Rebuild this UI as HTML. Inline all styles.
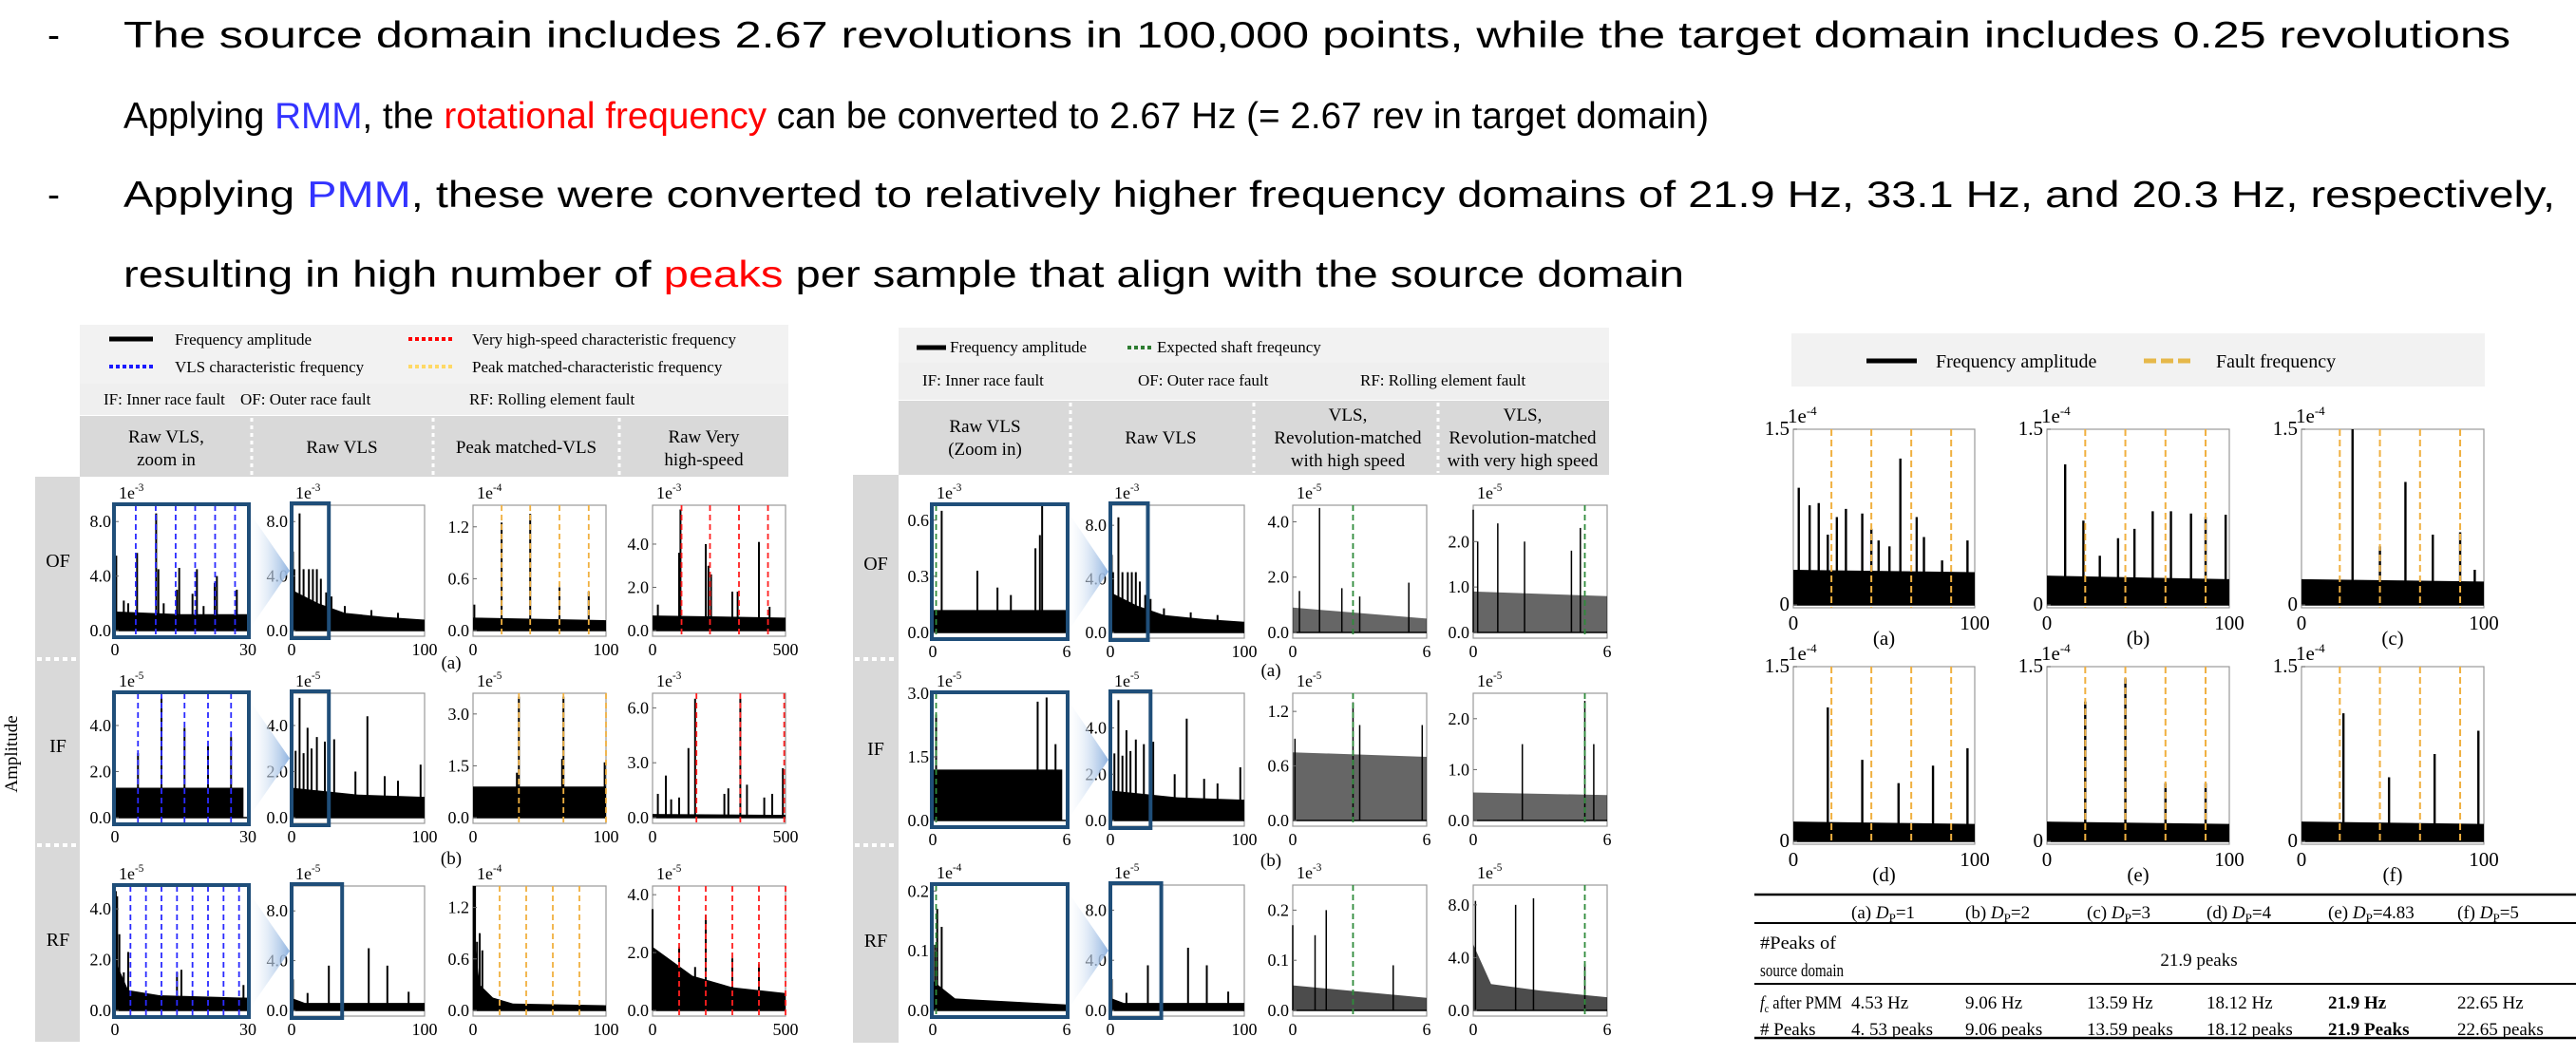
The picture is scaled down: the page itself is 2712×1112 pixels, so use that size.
<!DOCTYPE html>
<html><head><meta charset="utf-8">
<style>
html,body{margin:0;padding:0;background:#fff;}
svg{display:block;}
</style></head>
<body>
<svg id="root" xmlns="http://www.w3.org/2000/svg" width="2712" height="1112" viewBox="0 0 2712 1112">
<g font-family="'Liberation Sans', sans-serif" font-size="39" fill="#000">
  <text x="50" y="50">-</text>
  <text x="130" y="50" textLength="2513" lengthAdjust="spacingAndGlyphs">The source domain includes 2.67 revolutions in 100,000 points, while the target domain includes 0.25 revolutions</text>
  <text x="130" y="135" textLength="1669" lengthAdjust="spacingAndGlyphs">Applying <tspan fill="#3333ff">RMM</tspan>, the <tspan fill="#ff0000">rotational frequency</tspan> can be converted to 2.67 Hz (= 2.67 rev in target domain)</text>
  <text x="50" y="218">-</text>
  <text x="130" y="218" textLength="2560" lengthAdjust="spacingAndGlyphs">Applying <tspan fill="#3333ff">PMM</tspan>, these were converted to relatively higher frequency domains of 21.9 Hz, 33.1 Hz, and 20.3 Hz, respectively,</text>
  <text x="130" y="302" textLength="1643" lengthAdjust="spacingAndGlyphs">resulting in high number of <tspan fill="#ff0000">peaks</tspan> per sample that align with the source domain</text>
</g>

<g font-family="'Liberation Serif', serif" font-size="17">
  <rect x="84" y="342" width="746" height="95" fill="#f2f2f2"/>
  <rect x="84" y="404" width="746" height="33" fill="#efefef"/>
  <line x1="115" y1="357" x2="161" y2="357" stroke="#000" stroke-width="5"/>
  <text x="184" y="363">Frequency amplitude</text>
  <line x1="430" y1="357" x2="479" y2="357" stroke="#ff0000" stroke-width="4" stroke-dasharray="4,3"/>
  <text x="497" y="363">Very high-speed characteristic frequency</text>
  <line x1="115" y1="386" x2="161" y2="386" stroke="#1a1aff" stroke-width="4" stroke-dasharray="4,3"/>
  <text x="184" y="392">VLS characteristic frequency</text>
  <line x1="430" y1="386" x2="479" y2="386" stroke="#ffd966" stroke-width="4" stroke-dasharray="4,3"/>
  <text x="497" y="392">Peak matched-characteristic frequency</text>
  <text x="109" y="426">IF: Inner race fault</text>
  <text x="253" y="426">OF: Outer race fault</text>
  <text x="494" y="426">RF: Rolling element fault</text>
</g>
<g font-family="'Liberation Serif', serif" font-size="19" text-anchor="middle">
  <rect x="84" y="438" width="746" height="64" fill="#d9d9d9"/>
  <line x1="265" y1="440" x2="265" y2="500" stroke="#fff" stroke-width="3" stroke-dasharray="4,4"/>
  <line x1="456" y1="440" x2="456" y2="500" stroke="#fff" stroke-width="3" stroke-dasharray="4,4"/>
  <line x1="652" y1="440" x2="652" y2="500" stroke="#fff" stroke-width="3" stroke-dasharray="4,4"/>
  <text x="175" y="466">Raw VLS,</text><text x="175" y="490">zoom in</text>
  <text x="360" y="477">Raw VLS</text>
  <text x="554" y="477">Peak matched-VLS</text>
  <text x="741" y="466">Raw Very</text><text x="741" y="490">high-speed</text>
</g>
<g font-family="'Liberation Serif', serif" font-size="20" text-anchor="middle">
  <rect x="37" y="502" width="47" height="595" fill="#d9d9d9"/>
  <line x1="39" y1="694" x2="82" y2="694" stroke="#fff" stroke-width="4" stroke-dasharray="5,4"/>
  <line x1="39" y1="890" x2="82" y2="890" stroke="#fff" stroke-width="4" stroke-dasharray="5,4"/>
  <text x="61" y="597">OF</text><text x="61" y="792">IF</text><text x="61" y="996">RF</text>
  <text x="18" y="794" transform="rotate(-90 18 794)" font-size="19">Amplitude</text>
</g>

<g font-family="'Liberation Serif', serif" font-size="17">
  <rect x="946" y="345" width="748" height="37" fill="#f2f2f2"/>
  <rect x="946" y="382" width="748" height="39" fill="#efefef"/>
  <line x1="965" y1="366" x2="996" y2="366" stroke="#000" stroke-width="5"/>
  <text x="1000" y="371">Frequency amplitude</text>
  <line x1="1187" y1="366" x2="1215" y2="366" stroke="#2e7d32" stroke-width="4" stroke-dasharray="4,3"/>
  <text x="1218" y="371">Expected shaft freqeuncy</text>
  <text x="971" y="406">IF: Inner race fault</text>
  <text x="1198" y="406">OF: Outer race fault</text>
  <text x="1432" y="406">RF: Rolling element fault</text>
</g>
<g font-family="'Liberation Serif', serif" font-size="19" text-anchor="middle">
  <rect x="946" y="422" width="748" height="78" fill="#d9d9d9"/>
  <line x1="1127" y1="424" x2="1127" y2="498" stroke="#fff" stroke-width="3" stroke-dasharray="4,4"/>
  <line x1="1320" y1="424" x2="1320" y2="498" stroke="#fff" stroke-width="3" stroke-dasharray="4,4"/>
  <line x1="1514" y1="424" x2="1514" y2="498" stroke="#fff" stroke-width="3" stroke-dasharray="4,4"/>
  <text x="1037" y="455">Raw VLS</text><text x="1037" y="479">(Zoom in)</text>
  <text x="1222" y="467">Raw VLS</text>
  <text x="1419" y="443">VLS,</text><text x="1419" y="467">Revolution-matched</text><text x="1419" y="491">with high speed</text>
  <text x="1603" y="443">VLS,</text><text x="1603" y="467">Revolution-matched</text><text x="1603" y="491">with very high speed</text>
</g>
<g font-family="'Liberation Serif', serif" font-size="20" text-anchor="middle">
  <rect x="898" y="500" width="48" height="598" fill="#d9d9d9"/>
  <line x1="900" y1="694" x2="944" y2="694" stroke="#fff" stroke-width="4" stroke-dasharray="5,4"/>
  <line x1="900" y1="890" x2="944" y2="890" stroke="#fff" stroke-width="4" stroke-dasharray="5,4"/>
  <text x="922" y="600">OF</text><text x="922" y="795">IF</text><text x="922" y="997">RF</text>
</g>

<g font-family="'Liberation Serif', serif" font-size="20">
  <rect x="1886" y="351" width="730" height="56" fill="#f2f2f2"/>
  <line x1="1965" y1="380" x2="2018" y2="380" stroke="#000" stroke-width="5"/>
  <text x="2038" y="387">Frequency amplitude</text>
  <line x1="2257" y1="380" x2="2310" y2="380" stroke="#e6b84a" stroke-width="5" stroke-dasharray="13,5"/>
  <text x="2333" y="387">Fault frequency</text>
</g>
<g font-family="'Liberation Serif', serif" font-size="19">
  <line x1="1847" y1="942" x2="2712" y2="942" stroke="#000" stroke-width="2.5"/>
  <line x1="1847" y1="972" x2="2712" y2="972" stroke="#000" stroke-width="2"/>
  <line x1="1847" y1="1036" x2="2712" y2="1036" stroke="#000" stroke-width="2"/>
  <line x1="1847" y1="1093" x2="2712" y2="1093" stroke="#000" stroke-width="2.5"/>
  <g>
    <text x="1949" y="967">(a) <tspan font-style="italic">D</tspan><tspan font-size="13" dy="4">P</tspan><tspan dy="-4">=1</tspan></text>
    <text x="2069" y="967">(b) <tspan font-style="italic">D</tspan><tspan font-size="13" dy="4">P</tspan><tspan dy="-4">=2</tspan></text>
    <text x="2197" y="967">(c) <tspan font-style="italic">D</tspan><tspan font-size="13" dy="4">P</tspan><tspan dy="-4">=3</tspan></text>
    <text x="2323" y="967">(d) <tspan font-style="italic">D</tspan><tspan font-size="13" dy="4">P</tspan><tspan dy="-4">=4</tspan></text>
    <text x="2451" y="967">(e) <tspan font-style="italic">D</tspan><tspan font-size="13" dy="4">P</tspan><tspan dy="-4">=4.83</tspan></text>
    <text x="2587" y="967">(f) <tspan font-style="italic">D</tspan><tspan font-size="13" dy="4">P</tspan><tspan dy="-4">=5</tspan></text>
  </g>
  <text x="1853" y="999" textLength="80" lengthAdjust="spacingAndGlyphs">#Peaks of</text>
  <text x="1853" y="1028" textLength="88" lengthAdjust="spacingAndGlyphs">source domain</text>
  <text x="2315" y="1017" text-anchor="middle">21.9 peaks</text>
  <text x="1853" y="1062" textLength="86" lengthAdjust="spacingAndGlyphs"><tspan font-style="italic">f</tspan><tspan font-size="12" dy="4">c</tspan><tspan dy="-4"> after PMM</tspan></text>
  <text x="1853" y="1090">#  Peaks</text>
  <text x="1949" y="1062">4.53 Hz</text><text x="2069" y="1062">9.06 Hz</text><text x="2197" y="1062">13.59 Hz</text><text x="2323" y="1062">18.12 Hz</text><text x="2451" y="1062" font-weight="bold">21.9 Hz</text><text x="2587" y="1062">22.65 Hz</text>
  <text x="1949" y="1090">4. 53 peaks</text><text x="2069" y="1090">9.06 peaks</text><text x="2197" y="1090">13.59 peaks</text><text x="2323" y="1090">18.12 peaks</text><text x="2451" y="1090" font-weight="bold">21.9 Peaks</text><text x="2587" y="1090">22.65 peaks</text>
</g>
<g font-family="'Liberation Serif', serif" font-size="19" text-anchor="middle">
  <text x="475" y="704">(a)</text><text x="475" y="910">(b)</text>
  <text x="1338" y="712">(a)</text><text x="1338" y="912">(b)</text>
</g>
<defs>
  <linearGradient id="wedge" x1="0" x2="1" y1="0" y2="0">
    <stop offset="0" stop-color="#ffffff" stop-opacity="0.2"/>
    <stop offset="1" stop-color="#8fb3e0"/>
  </linearGradient>
</defs>
</svg>

<script>
// ===== DATA =====
const lOF1Peaks = [[0.3,5.5],[2,2.2],[3,2.0],[5,5.7],[9.3,8.6],[9.8,4.5],[11,2.0],[14,3.0],[14.5,4.6],[17.5,2.7],[18.5,4.5],[20,1.8],[22.5,3.5],[23,4.0],[27.5,3.0]];
const lOF1Floor = [[0,1.4],[15,1.2],[30,1.2]];
const lOF1Marks = [4.7,9.2,13.7,18.1,22.6,27.1];
const lOF2Peaks = [[1,5.8],[2,4.5],[6,8.6],[9,4.5],[13,4.5],[16,4.5],[19,4.5],[22,3.8],[26,2.8],[30,2.5],[40,1.8],[60,1.5],[80,1.3]];
const lOF2Floor = [[0,3.0],[20,2.0],[40,1.3],[70,1.0],[100,0.8]];
const lOF3Peaks = [[21.5,1.25],[43,1.35],[65,0.5],[87,0.45],[1,0.3]];
const lOF3Floor = [[0,0.15],[100,0.12]];
const lOF3Marks = [21.5,43,65,87];
const lOF4Peaks = [[20,1.2],[100,3.6],[105,5.6],[200,4.0],[210,3.0],[220,2.6],[300,1.8],[320,1.8],[400,4.1],[440,1.1]];
const lOF4Floor = [[0,0.7],[500,0.6]];
const lOF4Marks = [109,216,325,434];
const lIF1Peaks = [[5.2,2.8],[10.5,5.2],[15.7,3.9],[21,3.1],[26.2,3.5]];
const lIF1Floor = [[0,1.3],[29,1.3]];
const lIF1Marks = [5.2,10.5,15.7,21,26.2];
const lIF2Peaks = [[3,2.9],[6,5.2],[9,2.8],[12,3.9],[15,3.0],[19,3.5],[25,3.3],[32,3.4],[48,2.0],[57,4.4],[70,1.8],[80,1.6],[97,2.3]];
const lIF2Floor = [[0,1.3],[50,1.0],[100,0.9]];
const lIF3Peaks = [[33,1.3],[34.5,3.5],[67,1.7],[68,3.5],[99,1.6]];
const lIF3Floor = [[0,0.9],[100,0.9]];
const lIF3Marks = [34.5,68,100];
const lIF4Peaks = [[20,1.3],[50,2.3],[70,1.0],[100,1.1],[135,3.8],[160,6.5],[270,1.3],[285,1.6],[330,6.5],[355,1.8],[420,1.1],[450,1.3],[490,2.7]];
const lIF4Floor = [[0,0.2],[500,0.15]];
const lIF4Marks = [165,330,495];
const lRF1Peaks = [[0.2,4.7],[0.5,4.5],[1,3.0],[2,1.5],[3,2.3],[14,1.5],[15,1.6],[29,1.0]];
const lRF1Floor = [[0,2.0],[3,0.8],[10,0.6],[30,0.5]];
const lRF1Marks = [3.5,7,10.5,14,17.5,21,24.5,28];
const lRF2Peaks = [[0,4.0],[1,2.5],[12,1.4],[28,3.6],[58,5.0],[72,3.6],[88,1.5]];
const lRF2Floor = [[0,1.0],[10,0.6],[100,0.6]];
const lRF3Peaks = [[0.5,1.45],[1.5,1.45],[3,0.8],[5,0.9],[7,0.7]];
const lRF3Floor = [[0,1.0],[5,0.3],[15,0.15],[30,0.08],[100,0.06]];
const lRF3Marks = [20,40,60,80];
const lRF4Peaks = [[0,3.5],[100,2.2],[160,1.5],[200,3.3],[300,1.8],[400,1.6]];
const lRF4Floor = [[0,2.2],[150,1.2],[300,0.8],[500,0.6]];
const lRF4Marks = [100,200,300,400,500];
const mOF1Peaks = [[0.4,0.65],[2,0.33],[2.9,0.24],[3.5,0.2],[4.6,0.45],[4.8,0.52],[4.9,0.68]];
const mOF1Floor = [[0,0.12],[6,0.12]];
const mOF3Peaks = [[0.3,1.5],[1.2,4.5],[2.2,1.6],[3,1.3],[5.2,1.8]];
const mOF3Floor = [[0,0.9],[6,0.5]];
const mOF4Peaks = [[0,2.7],[0.2,2.0],[1.1,2.4],[2.3,2.0],[4.4,1.8],[4.8,2.3]];
const mOF4Floor = [[0,0.9],[6,0.8]];
const mIF1Peaks = [[0.15,2.5],[4.7,2.8],[5.1,2.9],[5.5,1.8]];
const mIF1Floor = [[0,1.2],[5.8,1.2]];
const mIF3Peaks = [[2.7,1.3],[3.0,1.05],[5.8,1.05],[0.1,0.9]];
const mIF3Floor = [[0,0.75],[6,0.7]];
const mIF4Peaks = [[2.2,1.5],[5.0,2.35],[5.4,1.5]];
const mIF4Floor = [[0,0.55],[6,0.5]];
const mRF1Peaks = [[0.1,0.11],[0.2,0.17],[0.4,0.14]];
const mRF1Floor = [[0,0.05],[1,0.02],[6,0.01]];
const mRF3Peaks = [[0,0.17],[1,0.15],[1.5,0.2],[4.5,0.09]];
const mRF3Floor = [[0,0.05],[6,0.025]];
const mRF4Peaks = [[0.1,8.3],[1.9,8.0],[2.7,8.5],[5,3.5]];
const mRF4Floor = [[0,5],[0.8,2],[3,1.5],[6,1.0]];
const rAPeaks = [[3,1.0],[9,0.85],[14,0.87],[19,0.6],[24,0.75],[29,0.82],[38,0.78],[43,0.65],[47,0.55],[53,0.5],[59,1.25],[68,0.75],[72,0.58],[82,0.38],[96,0.55]];
const rBPeaks = [[10,1.2],[20,0.72],[29,0.42],[39,0.57],[48,0.65],[58,0.8],[68,0.8],[79,0.78],[87,0.75],[98,0.77]];
const rCPeaks = [[28,1.5],[43,0.5],[57,1.05],[72,0.6],[87,0.62],[95,0.3]];
const rDPeaks = [[19,1.15],[38,0.7],[58,0.5],[77,0.65],[96,0.8]];
const rEPeaks = [[21,1.2],[43,1.4],[65,0.5],[87,0.5]];
const rFPeaks = [[23,1.1],[48,0.55],[73,0.75],[97,0.95]];
const rFloorA = [[0,0.3],[100,0.28]];
const rFloorB = [[0,0.25],[100,0.22]];
const rFloorC = [[0,0.22],[100,0.2]];
const rFloorD = [[0,0.17],[100,0.15]];
const rFloorE = [[0,0.17],[100,0.15]];
const rFloorF = [[0,0.17],[100,0.15]];
const rMarks = [21,43,65,87];
const shaftMarkZoom = [0.15];
const shaftMarkHigh = [2.7];
const shaftMarkVery = [5.0];
const ticks048 = [0,4,8], labels048 = ['0.0','4.0','8.0'];
const ticks024 = [0,2,4], labels024 = ['0.0','2.0','4.0'];
const ticks0612 = [0,0.6,1.2], labels0612 = ['0.0','0.6','1.2'];
const ticks036 = [0,3,6], labels036 = ['0.0','3.0','6.0'];
const ticks01530 = [0,1.5,3.0], labels01530 = ['0.0','1.5','3.0'];
const ticks00306 = [0,0.3,0.6], labels00306 = ['0.0','0.3','0.6'];
const ticks012 = [0,1,2], labels012 = ['0.0','1.0','2.0'];
const ticks0102 = [0,0.1,0.2], labels0102 = ['0.0','0.1','0.2'];
const ticksR = [0,1.5], labelsR = ['0','1.5'];

// ===== RENDER =====
const NS = 'http://www.w3.org/2000/svg';
const svg = document.getElementById('root');
function mk(tag, attrs, parent){
  const e = document.createElementNS(NS, tag);
  for (const k in attrs) e.setAttribute(k, attrs[k]);
  (parent || svg).appendChild(e);
  return e;
}

function drawPlot(p){
  const g = mk('g', {'font-family':"'Liberation Serif', serif"});
  
  
  const x0=p.x0, x1=p.x1, y0=p.y0, y1=p.y1;
  const yz = y1 - p.pad;
  const sx = v => x0 + v / p.xmax * (x1 - x0);
  const sy = v => yz - Math.min(v, p.ymax) / p.ymax * (yz - y0);
  const fr = mk('rect', {x:x0, y:y0, width:x1-x0, height:y1-y0, fill:'#fff', stroke:'#9a9a9a', 'stroke-width':1.2}, g);
  
  
  let pts = sx(0)+','+yz+' ';
  p.floor.forEach(f => { pts += sx(f[0])+','+sy(f[1])+' '; });
  pts += sx(p.floor[p.floor.length-1][0])+','+yz;
  const fl = mk('polygon', {points:pts, fill:'#000', 'fill-opacity':p.fo || 1}, g);
  
  
  p.peaks.forEach(pk => {
    const l = mk('line', {x1:sx(pk[0]), x2:sx(pk[0]), y1:yz, y2:sy(pk[1]), stroke:'#000', 'stroke-width':p.pw || 2}, g);
    
    
  });
  mk('line', {x1:x0, x2:x1, y1:yz, y2:yz, stroke:'#000', 'stroke-width':1.5}, g);
  (p.marks || []).forEach(m => {
    const l = mk('line', {x1:sx(m), x2:sx(m), y1:y0, y2:y1, stroke:p.mc, 'stroke-width':p.mw || 1.8, 'stroke-dasharray':p.md || '6,4'}, g);
    
    
  });
  p.yt.forEach((t, i) => {
    mk('line', {x1:x0, x2:x0+4, y1:sy(t), y2:sy(t), stroke:'#666', 'stroke-width':1}, g);
    const tx = mk('text', {x:x0-4, y:sy(t)+6, 'text-anchor':'end', 'font-size':p.fs}, g);
    tx.textContent = p.ytl[i];
    
    
  });
  p.xt.forEach(t => {
    const tx = mk('text', {x:sx(t), y:y1+p.fs+2, 'text-anchor':'middle', 'font-size':p.fs}, g);
    tx.textContent = String(t);
    
    
  });
  const ex = mk('text', {x:x0+(p.exX||4), y:y0-7, 'font-size':p.fs}, g);
  ex.textContent = '1e';
  
  
  const es = mk('tspan', {dy:-8, 'font-size':p.fs*0.62}, ex);
  es.textContent = String(p.exp);
  if (p.caption){
    const c = mk('text', {x:(x0+x1)/2, y:y1+39, 'text-anchor':'middle', 'font-size':p.fs}, g);
    c.textContent = p.caption;
    
    
  }
  return {sx, sy, g};
}

function zoomGroup(c1, c2, boxMax, xmax){
  const g = mk('g', {});
  
  
  const bx = c2.x0 + boxMax / xmax * (c2.x1 - c2.x0);
  const midY = (c1.y0 + c1.y1) / 2;
  const w = mk('polygon', {points:`${c1.x1+2},${c1.y0+8} ${c2.x0-2},${midY} ${c1.x1+2},${c1.y1-8}`, fill:'url(#wedge)'}, g);
  
  
  const b1 = mk('rect', {x:c1.x0-1, y:c1.y0-1, width:c1.x1-c1.x0+2, height:c1.y1-c1.y0+2, fill:'none', stroke:'#1f4e79', 'stroke-width':4}, g);
  
  
  const b2 = mk('rect', {x:c2.x0, y:c2.y0-2, width:bx-c2.x0, height:c2.y1-c2.y0+4, fill:'none', stroke:'#1f4e79', 'stroke-width':4}, g);
  
  
}

const LX = [[121,261],[307,447],[498,638],[687,827]];
const LY = [[532,670],[730,867],[933,1070]];
const MX = [[982,1123],[1169,1310],[1361,1502],[1551,1692]];
const MY = [[532,672],[730,870],[932,1070]];
const RX = [[1888,2079],[2155,2347],[2423,2615]];
const RY = [[452,640],[702,889]];
const BLUE='#2a2aff', ORANGE='#f0b040', RED='#ff2020', GREEN='#2e8b3a';

function P(name, X, Y, c, r, o){
  return Object.assign({name, x0:X[c][0], x1:X[c][1], y0:Y[r][0], y1:Y[r][1], pad:6, fs:18}, o);
}
const plots = [
  P('left-of-zoom', LX,LY,0,0,{xmax:30,ymax:9.2,yt:ticks048,ytl:labels048,exp:-3,xt:[0,30],floor:lOF1Floor,peaks:lOF1Peaks,marks:lOF1Marks,mc:BLUE}),
  P('left-of-raw', LX,LY,1,0,{xmax:100,ymax:9.2,yt:ticks048,ytl:labels048,exp:-3,xt:[0,100],floor:lOF2Floor,peaks:lOF2Peaks}),
  P('left-of-peak-matched', LX,LY,2,0,{xmax:100,ymax:1.45,yt:ticks0612,ytl:labels0612,exp:-4,xt:[0,100],floor:lOF3Floor,peaks:lOF3Peaks,marks:lOF3Marks,mc:ORANGE}),
  P('left-of-very-high', LX,LY,3,0,{xmax:500,ymax:5.8,yt:ticks024,ytl:labels024,exp:-3,xt:[0,500],floor:lOF4Floor,peaks:lOF4Peaks,marks:lOF4Marks,mc:RED}),
  P('left-if-zoom', LX,LY,0,1,{xmax:30,ymax:5.4,yt:ticks024,ytl:labels024,exp:-5,xt:[0,30],floor:lIF1Floor,peaks:lIF1Peaks,marks:lIF1Marks,mc:BLUE}),
  P('left-if-raw', LX,LY,1,1,{xmax:100,ymax:5.4,yt:ticks024,ytl:labels024,exp:-5,xt:[0,100],floor:lIF2Floor,peaks:lIF2Peaks}),
  P('left-if-peak-matched', LX,LY,2,1,{xmax:100,ymax:3.6,yt:ticks01530,ytl:labels01530,exp:-5,xt:[0,100],floor:lIF3Floor,peaks:lIF3Peaks,marks:lIF3Marks,mc:ORANGE}),
  P('left-if-very-high', LX,LY,3,1,{xmax:500,ymax:6.8,yt:ticks036,ytl:labels036,exp:-3,xt:[0,500],floor:lIF4Floor,peaks:lIF4Peaks,marks:lIF4Marks,mc:RED}),
  P('left-rf-zoom', LX,LY,0,2,{xmax:30,ymax:4.9,yt:ticks024,ytl:labels024,exp:-5,xt:[0,30],floor:lRF1Floor,peaks:lRF1Peaks,marks:lRF1Marks,mc:BLUE}),
  P('left-rf-raw', LX,LY,1,2,{xmax:100,ymax:10,yt:ticks048,ytl:labels048,exp:-5,xt:[0,100],floor:lRF2Floor,peaks:lRF2Peaks}),
  P('left-rf-peak-matched', LX,LY,2,2,{xmax:100,ymax:1.45,yt:ticks0612,ytl:labels0612,exp:-4,xt:[0,100],floor:lRF3Floor,peaks:lRF3Peaks,marks:lRF3Marks,mc:ORANGE}),
  P('left-rf-very-high', LX,LY,3,2,{xmax:500,ymax:4.3,yt:ticks024,ytl:labels024,exp:-5,xt:[0,500],floor:lRF4Floor,peaks:lRF4Peaks,marks:lRF4Marks,mc:RED}),

  P('middle-of-zoom', MX,MY,0,0,{xmax:6,ymax:0.68,yt:ticks00306,ytl:labels00306,exp:-3,xt:[0,6],floor:mOF1Floor,peaks:mOF1Peaks,marks:shaftMarkZoom,mc:GREEN}),
  P('middle-of-raw', MX,MY,1,0,{xmax:100,ymax:9.5,yt:ticks048,ytl:labels048,exp:-3,xt:[0,100],floor:lOF2Floor,peaks:lOF2Peaks}),
  P('middle-of-high', MX,MY,2,0,{xmax:6,ymax:4.6,yt:ticks024,ytl:labels024,exp:-5,xt:[0,6],floor:mOF3Floor,peaks:mOF3Peaks,marks:shaftMarkHigh,mc:GREEN,pw:1.5,fo:0.6}),
  P('middle-of-very-high', MX,MY,3,0,{xmax:6,ymax:2.8,yt:ticks012,ytl:labels012,exp:-5,xt:[0,6],floor:mOF4Floor,peaks:mOF4Peaks,marks:shaftMarkVery,mc:GREEN,pw:1.5,fo:0.6}),
  P('middle-if-zoom', MX,MY,0,1,{xmax:6,ymax:3.0,yt:ticks01530,ytl:labels01530,exp:-5,xt:[0,6],floor:mIF1Floor,peaks:mIF1Peaks,marks:shaftMarkZoom,mc:GREEN}),
  P('middle-if-raw', MX,MY,1,1,{xmax:100,ymax:5.5,yt:ticks024,ytl:labels024,exp:-5,xt:[0,100],floor:lIF2Floor,peaks:lIF2Peaks}),
  P('middle-if-high', MX,MY,2,1,{xmax:6,ymax:1.4,yt:ticks0612,ytl:labels0612,exp:-5,xt:[0,6],floor:mIF3Floor,peaks:mIF3Peaks,marks:shaftMarkHigh,mc:GREEN,pw:1.5,fo:0.6}),
  P('middle-if-very-high', MX,MY,3,1,{xmax:6,ymax:2.5,yt:ticks012,ytl:labels012,exp:-5,xt:[0,6],floor:mIF4Floor,peaks:mIF4Peaks,marks:shaftMarkVery,mc:GREEN,pw:1.5,fo:0.6}),
  P('middle-rf-zoom', MX,MY,0,2,{xmax:6,ymax:0.21,yt:ticks0102,ytl:labels0102,exp:-4,xt:[0,6],floor:mRF1Floor,peaks:mRF1Peaks,marks:shaftMarkZoom,mc:GREEN}),
  P('middle-rf-raw', MX,MY,1,2,{xmax:100,ymax:10,yt:ticks048,ytl:labels048,exp:-5,xt:[0,100],floor:lRF2Floor,peaks:lRF2Peaks}),
  P('middle-rf-high', MX,MY,2,2,{xmax:6,ymax:0.25,yt:ticks0102,ytl:labels0102,exp:-3,xt:[0,6],floor:mRF3Floor,peaks:mRF3Peaks,marks:shaftMarkHigh,mc:GREEN,pw:1.5,fo:0.7}),
  P('middle-rf-very-high', MX,MY,3,2,{xmax:6,ymax:9.5,yt:ticks048,ytl:labels048,exp:-5,xt:[0,6],floor:mRF4Floor,peaks:mRF4Peaks,marks:shaftMarkVery,mc:GREEN,pw:1.5,fo:0.7}),
];
const rPeaks = [rAPeaks,rBPeaks,rCPeaks,rDPeaks,rEPeaks,rFPeaks];
const rFloors = [rFloorA,rFloorB,rFloorC,rFloorD,rFloorE,rFloorF];
const rCaps = ['(a)','(b)','(c)','(d)','(e)','(f)'];
rPeaks.forEach((pk, i) => {
  plots.push(P('right-dp-plot-'+rCaps[i].replace(/[()]/g,''), RX, RY, i%3, Math.floor(i/3),
    {xmax:100,ymax:1.5,yt:ticksR,ytl:labelsR,exp:-4,xt:[0,100],floor:rFloors[i],peaks:pk,marks:rMarks,mc:ORANGE,md:'7,4',mw:2,pad:3,fs:21,pw:2.4,caption:rCaps[i],exX:-6}));
});

plots.map(drawPlot);
[0,1,2].forEach(r => {
  const boxL = [28,28,38][r];
  zoomGroup(plots[r*4], plots[r*4+1], boxL, 100);
  const boxM = [28,30,38][r];
  zoomGroup(plots[12+r*4], plots[12+r*4+1], boxM, 100);
});
</script>
</body></html>
